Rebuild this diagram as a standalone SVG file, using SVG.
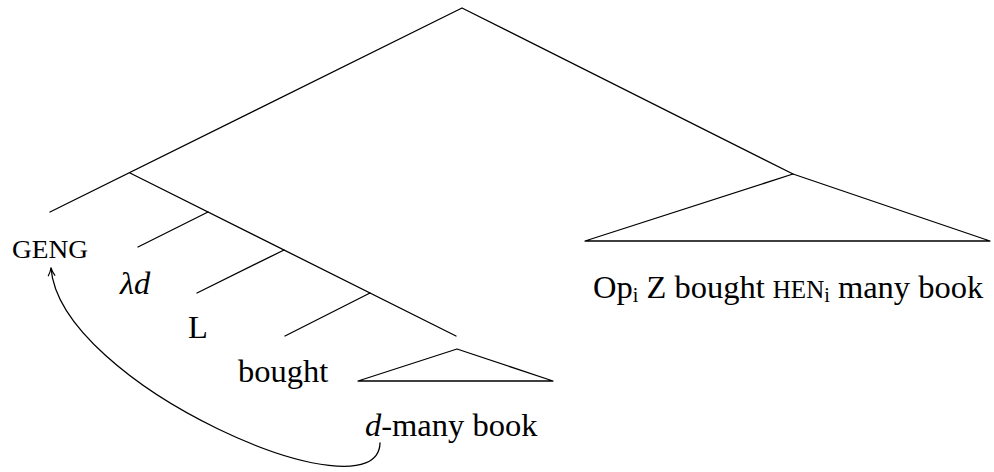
<svg xmlns="http://www.w3.org/2000/svg" width="994" height="472" viewBox="0 0 994 472">
<style>
.ln{stroke:#000;stroke-width:1.3;fill:none;stroke-linecap:round;stroke-linejoin:round}
.t{font-family:"Liberation Serif","Times New Roman",serif;font-size:32.5px;fill:#000}
.sc{font-size:25px}
.sub{font-size:20px}
.it{font-style:italic}
</style>
<defs>
<marker id="ah" viewBox="0 0 10 10" refX="9" refY="5" markerWidth="10" markerHeight="10" markerUnits="userSpaceOnUse" orient="auto">
<path d="M1,1.5 Q5,4 9,5 Q5,6 1,8.5" fill="none" stroke="#000" stroke-width="1.2"/>
</marker>
</defs>
<g id="connectors">
<polyline class="ln" points="50,212 462,8 793,174"/>
<polyline class="ln" points="130,173 456,336"/>
<line class="ln" x1="208" y1="212" x2="138" y2="247"/>
<line class="ln" x1="284" y1="250" x2="197" y2="293"/>
<line class="ln" x1="370" y1="293" x2="285" y2="336"/>
<path class="ln" d="M380,443 C378,522 60,385 51,268" marker-end="url(#ah)"/>
</g>
<g id="tri-right"><polygon class="ln" points="793,174 585,241 990,241"/></g>
<g id="tri-small"><polygon class="ln" points="457,349 358,381 553,381"/></g>
<g id="geng"><text class="t sc" x="12" y="258" textLength="76" lengthAdjust="spacingAndGlyphs">GENG</text></g>
<g id="lambda"><text class="t it" x="120" y="294">λd</text></g>
<g id="L"><text class="t" x="188" y="338">L</text></g>
<g id="bought"><text class="t" x="238" y="382">bought</text></g>
<g id="dmany"><text class="t" x="365" y="436"><tspan class="it">d</tspan>-many book</text></g>
<g id="op"><text class="t" x="593" y="298">Op<tspan class="sub" dy="4">i</tspan><tspan dy="-4"> Z bought </tspan><tspan class="sc">HEN</tspan><tspan class="sub" dy="4">i</tspan><tspan dy="-4"> many book</tspan></text></g>
</svg>
